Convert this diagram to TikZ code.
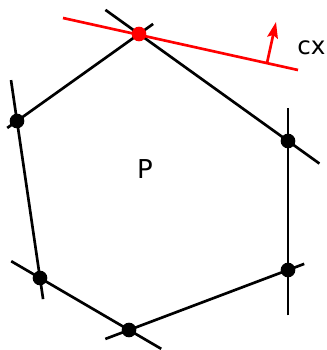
\documentclass[tikz,border=0pt]{standalone}
\usepackage{fontspec}
\setmainfont{DejaVu Sans}
\usetikzlibrary{arrows.meta, calc}

\begin{document}
\begin{tikzpicture}[
    x=0.75pt, y=-0.75pt,
    edge/.style={line width=2pt, draw=black},
    cut/.style={line width=2pt, draw=red},
    vtx/.style={circle, fill=black, inner sep=0pt, minimum size=11pt},
    hit/.style={circle, fill=red, inner sep=0pt, minimum size=11pt},
    normal/.style={-{Stealth[length=12pt, width=8pt, inset=2pt]}, line width=2pt, draw=red}
]
\useasboundingbox (0,0) rectangle (327,350);

% Vertices of P
\coordinate (top) at (139,34);
\coordinate (ur) at (288,141);
\coordinate (lr) at (288,270);
\coordinate (bot) at (129,330);
\coordinate (ll) at (40,278);
\coordinate (ul) at (17,121);

% Edges, extended past the vertices
\draw[edge, shorten <=-31pt, shorten >=-29pt] (top) -- (ur);
\draw[edge, shorten <=-13pt, shorten >=-9pt] (top) -- (ul);
\draw[edge, shorten <=-31pt, shorten >=-16pt] (ul) -- (ll);
\draw[edge, shorten <=-25pt, shorten >=-28pt] (ll) -- (bot);
\draw[edge, shorten <=-19pt, shorten >=-13pt] (bot) -- (lr);
\draw[edge, shorten <=-34pt, shorten >=-25pt] (lr) -- (ur);

% Objective line
\coordinate (cl) at (63,18);
\coordinate (cr) at (298,70);
\coordinate (cb) at ($(cl)!0.868!(cr)$);
\coordinate (ct) at (276,22);
\draw[cut] (cl) -- (cr);
\draw[normal] (cb) -- (ct);

% Dots
\node[vtx] (p2) at (ur) {};
\node[vtx] (p3) at (lr) {};
\node[vtx] (p4) at (bot) {};
\node[vtx] (p5) at (ll) {};
\node[vtx] (p6) at (ul) {};
\node[hit] (p1) at (top) {};

% Labels
\node[font=\fontsize{18.5}{20}\selectfont] (cx) at (311.5,48) {cx};
\node[font=\fontsize{19.5}{21}\selectfont] (P) at (145,169) {P};

\end{tikzpicture}
\end{document}
